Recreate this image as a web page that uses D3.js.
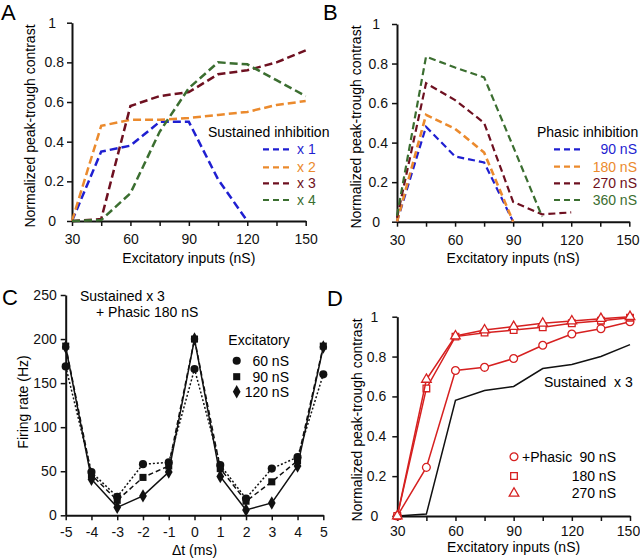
<!DOCTYPE html>
<html>
<head>
<meta charset="utf-8">
<script src="https://cdn.jsdelivr.net/npm/d3@7"></script>
<style>
	body { margin: 0; background: #fff; }
	svg { font-family: "Liberation Sans", Arial, sans-serif; }
	.domain { stroke-width: 2; }
	.tick line { stroke-width: 1.5; }
</style>
</head>
<body>
<svg id="fig" width="640" height="560"></svg>
<script>
// Data
var inputs = [30, 45, 60, 75, 90, 105, 120, 135, 150],
	inputTicks = [30, 60, 90, 120, 150];

// A: sustained inhibition
var sustX1 = [0, 0.35, 0.38, 0.50, 0.50, 0.21, 0],
	sustX2 = [0, 0.48, 0.51, 0.51, 0.52, 0.535, 0.55, 0.585, 0.605],
	sustX3 = [0, 0.01, 0.58, 0.63, 0.65, 0.74, 0.76, 0.80, 0.86],
	sustX4 = [0, 0.005, 0.14, 0.45, 0.67, 0.80, 0.79, 0.71, 0.63],
	sustLabels = ["x 1", "x 2", "x 3", "x 4"];

// B: phasic inhibition
var ph90 = [0, 0.48, 0.33, 0.30, 0],
	ph180 = [0, 0.54, 0.47, 0.35, 0],
	ph270 = [0.02, 0.70, 0.615, 0.50, 0.10, 0.037, 0.047],
	ph360 = [0.03, 0.835, 0.78, 0.73, 0.38, 0.025],
	phLabels = ["90 nS", "180 nS", "270 nS", "360 nS"];

// C: firing rate vs dt
var dt = [-5, -4, -3, -2, -1, 0, 1, 2, 3, 4, 5],
	rate60 = [169, 49, 21, 58, 60, 166, 57, 19, 53, 66, 160],
	rate90 = [192, 46, 17, 43, 56, 200, 53, 16, 38, 62, 192],
	rate120 = [191, 41, 9, 22, 49, 200, 44, 6, 14, 56, 191],
	rateTicks = [0, 50, 100, 150, 200, 250],
	excLabels = ["60 nS", "90 nS", "120 nS"];

// D: sustained x3 + phasic
var dPh90 = [0, 0.244, 0.73, 0.746, 0.79, 0.857, 0.913, 0.94, 0.975],
	dPh180 = [0, 0.64, 0.90, 0.92, 0.933, 0.947, 0.967, 0.98, 0.995],
	dPh270 = [0, 0.685, 0.903, 0.933, 0.95, 0.967, 0.978, 0.99, 1.0],
	dLabels = ["90 nS", "180 nS", "270 nS"];

var contrastTicks = [0, 0.2, 0.4, 0.6, 0.8, 1];

var blue = "#1f1fd1", orange = "#eb8a2d", maroon = "#6e1020", green = "#3b6e30",
	red = "#d62020";

var svg = d3.select("#fig");

function panel(o) {
	var x = d3.scaleLinear().domain(o.xd).range(o.xr),
		y = d3.scaleLinear().domain(o.yd).range(o.yr),
		g = svg.append("g");

	var xa = g.append("g")
		.attr("transform", "translate(0," + o.yr[0] + ")")
		.call(d3.axisBottom(x).tickValues(o.xt).tickSize(5).tickSizeOuter(0)
			.tickPadding(o.xpad)
			.tickFormat(function (d) { return o.xl.indexOf(d) >= 0 ? String(d) : ""; }));
	// keep the last label inside the page
	if (o.xr[1] > 620) {
		xa.selectAll(".tick text").filter(function (d) { return d == o.xd[1]; })
			.attr("dx", -2);
	}

	var ya = g.append("g")
		.attr("transform", "translate(" + o.xr[0] + ",0)")
		.call(d3.axisLeft(y).tickValues(o.yt).tickSize(5).tickSizeOuter(0)
			.tickFormat(function (d) { return String(d); }));
	ya.selectAll(".tick text")
		.attr("x", function (d) { return o.yint && d % 1 == 0 ? -o.ypad - 8 : -o.ypad; });

	g.selectAll(".tick text").attr("font-size", 14).attr("fill", "#111");
	g.selectAll(".domain, .tick line").attr("stroke", "#111");

	g.append("text")
		.attr("x", (o.xr[0] + o.xr[1]) / 2)
		.attr("y", o.xty)
		.attr("text-anchor", "middle")
		.attr("dominant-baseline", "central")
		.attr("font-size", 14)
		.text(o.xtitle);

	g.append("text")
		.attr("transform", "translate(" + o.ytx + "," + o.yty + ") rotate(-90)")
		.attr("text-anchor", "middle")
		.attr("dominant-baseline", "central")
		.attr("font-size", 14)
		.text(o.ytitle);

	svg.append("text")
		.attr("x", o.lx)
		.attr("y", o.ly)
		.attr("font-size", 22)
		.text(o.letter);

	return { x: x, y: y, g: g };
}

function series(p, xs, ys, color, width, dash) {
	var line = d3.line()
		.x(function (d, i) { return p.x(xs[i]); })
		.y(function (d) { return p.y(d); });
	return p.g.append("path")
		.datum(ys)
		.attr("d", line)
		.attr("fill", "none")
		.attr("stroke", color)
		.attr("stroke-width", width)
		.attr("stroke-dasharray", dash)
		.attr("stroke-linejoin", "miter");
}

function dashLegend(g, title, tx, labels, colors, x0, x1, lx, anchor, ys, dash) {
	g.append("text")
		.attr("x", tx).attr("y", 132)
		.attr("dominant-baseline", "central")
		.attr("font-size", 14)
		.text(title);
	labels.forEach(function (l, i) {
		g.append("line")
			.attr("x1", x0).attr("x2", x1)
			.attr("y1", ys[i]).attr("y2", ys[i])
			.attr("stroke", colors[i])
			.attr("stroke-width", 2.2)
			.attr("stroke-dasharray", dash);
		g.append("text")
			.attr("x", lx).attr("y", ys[i])
			.attr("text-anchor", anchor)
			.attr("dominant-baseline", "central")
			.attr("font-size", 14)
			.attr("fill", colors[i])
			.text(l);
	});
}

// Panel A
var pA = panel({
	xd: [30, 150], xr: [72, 305.7], yd: [0, 1], yr: [221, 22.7],
	xt: inputs, xl: inputTicks, yt: contrastTicks, xpad: 8, ypad: 8, yint: true,
	xtitle: "Excitatory inputs (nS)", xty: 258,
	ytitle: "Normalized peak-trough contrast", ytx: 30, yty: 126,
	letter: "A", lx: 1, ly: 20
});
var colorsA = [blue, orange, maroon, green];
[sustX1, sustX2, sustX3, sustX4].forEach(function (s, i) {
	series(pA, inputs, s, colorsA[i], 2.5, "8,4");
});
dashLegend(pA.g, "Sustained inhibition", 208, sustLabels, colorsA,
	263, 293, 297, "start", [149.3, 167.3, 183.3, 200], "6,4");

// Panel B
var pB = panel({
	xd: [30, 150], xr: [397, 629.3], yd: [0, 1], yr: [221.7, 24],
	xt: inputs, xl: inputTicks, yt: contrastTicks, xpad: 8, ypad: 9, yint: true,
	xtitle: "Excitatory inputs (nS)", xty: 258.3,
	ytitle: "Normalized peak-trough contrast", ytx: 356, yty: 127,
	letter: "B", lx: 323, ly: 20
});
[ph90, ph180, ph270, ph360].forEach(function (s, i) {
	series(pB, inputs, s, colorsA[i], i == 1 ? 2.6 : 2.2, "7,4");
});
dashLegend(pB.g, "Phasic inhibition", 537, phLabels, colorsA,
	554, 580, 637, "end", [149.3, 166.7, 183.3, 200], "6,4");

// Panel C
var pC = panel({
	xd: [-5, 5], xr: [65.7, 323.3], yd: [0, 250], yr: [515.3, 295],
	xt: dt, xl: dt, yt: rateTicks, xpad: 7, ypad: 9, yint: false,
	xtitle: "\u0394t (ms)", xty: 550,
	ytitle: "Firing rate (Hz)", ytx: 22.7, yty: 402,
	letter: "C", lx: 2, ly: 305
});
var symC = [d3.symbolCircle, d3.symbolSquare, d3.symbolDiamond],
	sizeC = [52, 50, 52],
	dashC = ["2,2", "5,3", null];
[rate60, rate90, rate120].forEach(function (s, i) {
	series(pC, dt, s, "#111", 1.5, dashC[i]);
});
[rate60, rate90, rate120].forEach(function (s, i) {
	pC.g.selectAll(null)
		.data(s)
		.enter().append("path")
		.attr("transform", function (d, j) {
			return "translate(" + pC.x(dt[j]) + "," + pC.y(d) + ")";
		})
		.attr("d", d3.symbol().type(symC[i]).size(sizeC[i]))
		.attr("fill", "#111");
});
pC.g.append("text").attr("x", 80).attr("y", 296)
	.attr("dominant-baseline", "central").attr("font-size", 14).text("Sustained x 3");
pC.g.append("text").attr("x", 96).attr("y", 311.7)
	.attr("dominant-baseline", "central").attr("font-size", 14).text("+ Phasic 180 nS");
pC.g.append("text").attr("x", 228.3).attr("y", 340)
	.attr("dominant-baseline", "central").attr("font-size", 14).text("Excitatory");
var legCy = [360.7, 376.7, 391.7];
excLabels.forEach(function (l, i) {
	pC.g.append("path")
		.attr("transform", "translate(236.7," + legCy[i] + ")")
		.attr("d", d3.symbol().type(symC[i]).size(sizeC[i]))
		.attr("fill", "#111");
	pC.g.append("text")
		.attr("x", 289).attr("y", legCy[i])
		.attr("text-anchor", "end")
		.attr("dominant-baseline", "central")
		.attr("font-size", 14)
		.text(l);
});

// Panel D
var pD = panel({
	xd: [30, 150], xr: [397.3, 630], yd: [0, 1], yr: [516, 316.7],
	xt: inputs, xl: inputTicks, yt: contrastTicks, xpad: 5, ypad: 11, yint: true,
	xtitle: "Excitatory inputs (nS)", xty: 547,
	ytitle: "Normalized peak-trough contrast", ytx: 356.5, yty: 420,
	letter: "D", lx: 327, ly: 306
});
series(pD, inputs, sustX3, "#111", 1.5, null);
var symD = [d3.symbolCircle, d3.symbolSquare, d3.symbolTriangle],
	sizeD = [48, 44, 40];
[dPh90, dPh180, dPh270].forEach(function (s, i) {
	series(pD, inputs, s, red, 1.5, null);
	pD.g.selectAll(null)
		.data(s)
		.enter().append("path")
		.attr("transform", function (d, j) {
			return "translate(" + pD.x(inputs[j]) + "," + pD.y(d) + ")";
		})
		.attr("d", d3.symbol().type(symD[i]).size(sizeD[i]))
		.attr("fill", "#fff")
		.attr("stroke", red)
		.attr("stroke-width", 1.3);
});
pD.g.append("text").attr("x", 544).attr("y", 381.7)
	.attr("dominant-baseline", "central").attr("font-size", 14)
	.style("white-space", "pre").text("Sustained  x 3");
var legDy = [456.7, 476, 493.3];
dLabels.forEach(function (l, i) {
	pD.g.append("path")
		.attr("transform", "translate(514," + legDy[i] + ")")
		.attr("d", d3.symbol().type(symD[i]).size(sizeD[i]))
		.attr("fill", "#fff")
		.attr("stroke", red)
		.attr("stroke-width", 1.3);
	pD.g.append("text")
		.attr("x", 616).attr("y", legDy[i])
		.attr("text-anchor", "end")
		.attr("dominant-baseline", "central")
		.attr("font-size", 14)
		.text(l);
});
pD.g.append("text").attr("x", 522).attr("y", legDy[0])
	.attr("dominant-baseline", "central").attr("font-size", 14).text("+Phasic");
</script>
</body>
</html>
